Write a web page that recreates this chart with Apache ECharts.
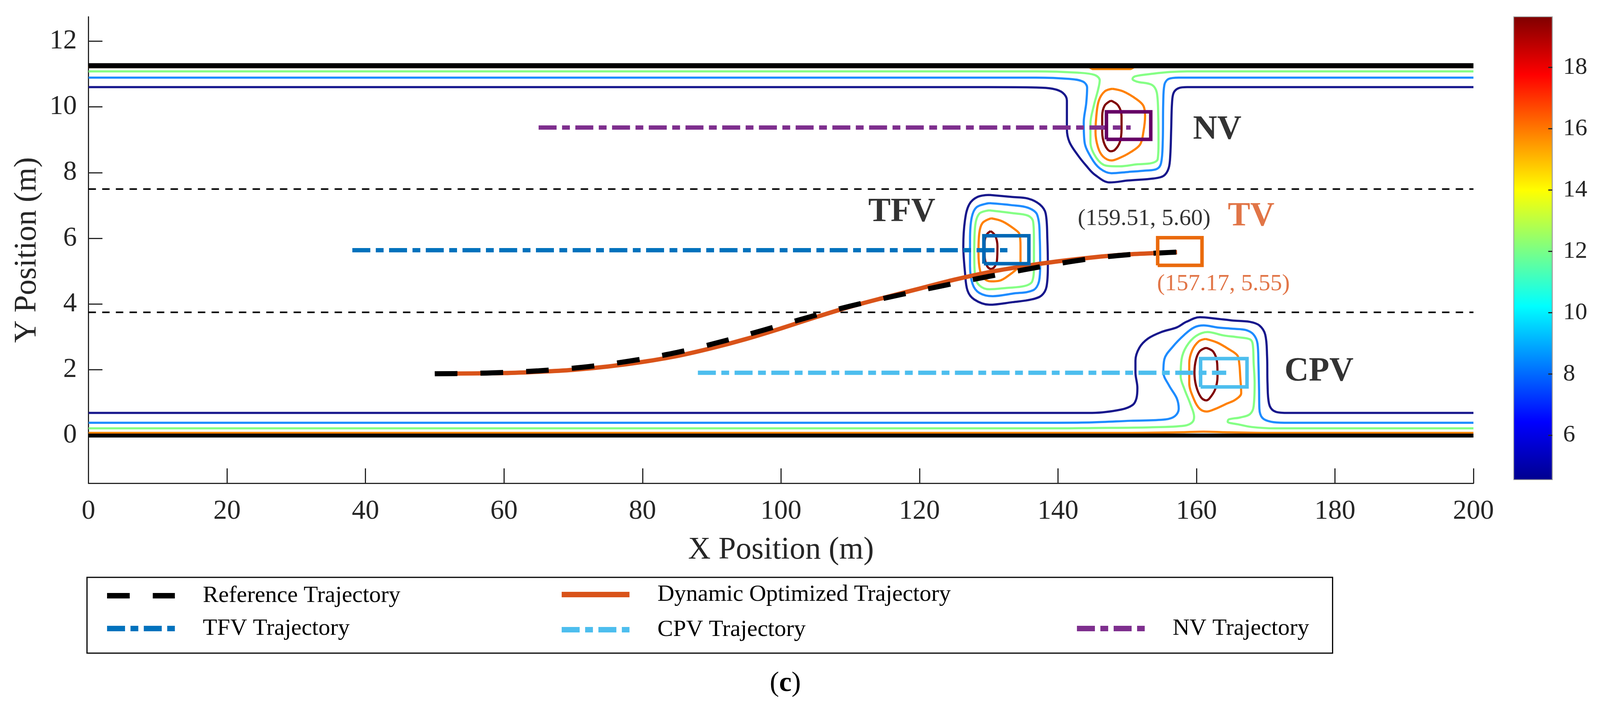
<!DOCTYPE html>
<html><head><meta charset="utf-8">
<script src="https://cdn.jsdelivr.net/npm/echarts@6/dist/echarts.min.js"></script>
<style>html,body{margin:0;padding:0;background:#fff;overflow:hidden}#c{width:100vw;height:1815px}</style>
</head><body><div id="c"></div>
<script>
// ---------- data ----------
const xTicks = [0,20,40,60,80,100,120,140,160,180,200];
const yTicks = [0,2,4,6,8,10,12];
const cbTicks = [6,8,10,12,14,16,18];
const cbRange = [4.55, 19.65];
const laneLines = [3.75, 7.5];
const roadEdges = [0, 11.25];

const trajX = [50,55,60,65,70,75,80,85,90,95,100,105,110,115,120,125,130,135,140,145,150,155,157.2];
const optY  = [1.88,1.89,1.9,1.94,2.0,2.1,2.24,2.42,2.66,2.94,3.26,3.6,3.92,4.2,4.47,4.74,4.97,5.15,5.3,5.42,5.51,5.56,5.58];
const refY  = [1.88,1.89,1.92,1.97,2.05,2.17,2.33,2.53,2.78,3.06,3.36,3.66,3.94,4.18,4.41,4.63,4.84,5.04,5.23,5.39,5.5,5.56,5.58];

const tfvTraj = [[38.1,5.64],[132.7,5.64]];
const cpvTraj = [[88.0,1.91],[164.3,1.91]];
const nvTraj  = [[65.0,9.37],[150.5,9.37]];

// vehicle boxes [x0, y0, x1, y1]
const nvBox  = [147.0, 9.01, 153.4, 9.85];
const tfvBox = [129.3, 5.23, 135.8, 6.08];
const cpvBox = [160.6, 1.48, 167.3, 2.34];
const tvBox  = [154.4, 5.18, 160.8, 6.02];

// contour lines (risk field levels)
const topNavy = [[0,10.6],[130,10.6],[136.8,10.59],[139.23,10.55],[140.68,10.43],[141.29,10.19],[141.29,9.32],[141.66,8.93],[142.87,8.53],[144.08,8.21],[145.3,7.94],[147.48,7.7],[150.15,7.76],[153.8,7.82],[155.25,7.9],[155.98,8.13],[156.22,8.53],[156.35,9.32],[156.47,10.11],[156.71,10.43],[157.44,10.57],[158.65,10.6],[165,10.6],[200,10.6]];
const topBlue = [[0,10.89],[130,10.89],[136.8,10.89],[141.66,10.85],[143.6,10.77],[144.21,10.59],[144.08,10.11],[143.72,9.52],[143.84,8.93],[144.81,8.45],[146.03,8.13],[147.73,7.98],[150.15,8.02],[152.58,8.06],[154.28,8.11],[154.89,8.29],[155.13,8.93],[155.2,10.11],[155.37,10.67],[155.98,10.85],[157.44,10.89],[165,10.89],[200,10.89]];
const topGreen = [[0,11.08],[130,11.08],[136.8,11.08],[142.87,11.04],[145.3,10.97],[146.03,10.81],[145.78,10.51],[145.18,10.04],[144.69,9.48],[144.69,8.93],[145.54,8.45],[147.0,8.21],[148.94,8.19],[151.37,8.25],[153.55,8.29],[154.4,8.41],[154.52,8.93],[154.48,9.72],[154.28,10.43],[153.55,10.67],[151.37,10.77],[150.76,10.85],[151.13,10.93],[153.8,11.01],[156.22,11.06],[158.65,11.08],[165,11.08],[200,11.08]];
const topOrange = [[0,11.21],[144.5,11.21],[145,11.15],[150.5,11.15],[151,11.21],[200,11.21]];
const nvOrange = [[147.85,10.55],[149.43,10.47],[151.37,10.23],[152.34,10.03],[152.58,9.72],[152.34,9.24],[151.85,8.85],[150.4,8.61],[148.94,8.45],[147.73,8.37],[146.51,8.49],[145.78,8.77],[145.42,9.24],[145.54,9.72],[145.9,10.19],[146.75,10.47],[147.85,10.55]];
const nvRed = [[147.65,10.19],[148.7,10.04],[149.18,9.72],[149.18,9.32],[148.94,8.93],[148.21,8.69],[147.6,8.65],[146.75,8.85],[146.39,9.24],[146.39,9.72],[146.75,10.04],[147.65,10.19]];

const tfvNavy = [[130.09,7.32],[133.25,7.26],[135.68,7.21],[137.38,7.03],[138.23,6.75],[138.47,5.96],[138.54,5.17],[138.35,4.53],[137.62,4.26],[136.16,4.14],[133.49,4.06],[130.09,3.98],[127.91,4.14],[126.94,4.41],[126.57,4.97],[126.33,5.76],[126.57,6.55],[127.18,7.03],[128.39,7.26],[130.09,7.32]];
const tfvBlue = [[130.09,7.07],[133.25,7.01],[135.68,6.93],[137.01,6.71],[137.38,5.96],[137.43,5.17],[137.26,4.69],[136.41,4.42],[133.49,4.32],[130.58,4.24],[128.64,4.34],[127.67,4.61],[127.3,5.17],[127.3,5.96],[127.54,6.63],[128.27,6.95],[130.09,7.07]];
const tfvGreen = [[130.09,6.85],[133.25,6.77],[135.68,6.69],[136.41,6.51],[136.53,5.96],[136.53,5.17],[136.28,4.69],[135.19,4.55],[132.52,4.49],[130.09,4.45],[128.64,4.57],[128.03,4.85],[127.91,5.56],[128.03,6.35],[128.64,6.75],[130.09,6.85]];
const tfvOrange = [[130.34,6.61],[132.04,6.51],[133.98,6.24],[134.46,6.12],[134.59,5.76],[134.59,5.25],[134.34,5.13],[133.01,4.89],[131.55,4.71],[130.34,4.69],[129.37,4.77],[128.76,5.01],[128.52,5.56],[128.64,6.16],[129.12,6.47],[130.34,6.61]];
const tfvRed = [[130.29,6.22],[130.94,6.08],[131.26,5.76],[131.19,5.32],[130.82,5.13],[130.29,5.07],[129.73,5.17],[129.41,5.48],[129.41,5.88],[129.73,6.12],[130.29,6.22]];

const botNavy = [[0,0.69],[140,0.69],[144.95,0.69],[149.11,0.79],[150.78,0.93],[151.33,1.13],[151.47,1.45],[151.19,1.92],[151.19,2.28],[151.75,2.67],[153.0,2.95],[154.94,3.15],[157.16,3.29],[158.55,3.46],[160.49,3.6],[162.71,3.56],[165.21,3.5],[167.71,3.46],[169.09,3.35],[169.93,3.07],[170.2,2.4],[170.26,1.6],[170.48,0.97],[171.17,0.75],[172.7,0.69],[180,0.69],[200,0.69]];
const botBlue = [[0,0.39],[140,0.39],[144.95,0.4],[150.5,0.45],[155.5,0.49],[156.88,0.59],[157.44,0.81],[157.16,1.13],[156.05,1.52],[155.22,1.92],[155.36,2.32],[156.61,2.71],[158.27,3.07],[159.66,3.29],[161.05,3.35],[162.99,3.29],[165.21,3.25],[167.15,3.21],[168.26,3.07],[168.82,2.79],[168.95,2.2],[169.04,1.41],[169.09,0.81],[169.51,0.54],[170.76,0.42],[172.7,0.39],[180,0.39],[200,0.39]];
const botGreen = [[0,0.22],[140,0.22],[144.95,0.23],[153.28,0.25],[158.27,0.3],[159.38,0.4],[159.66,0.57],[159.1,0.97],[158.27,1.41],[157.72,1.8],[157.85,2.32],[158.55,2.71],[159.94,3.03],[161.6,3.15],[163.82,3.05],[166.04,2.99],[167.71,2.93],[168.12,2.79],[168.26,2.2],[168.4,1.6],[168.26,0.89],[167.71,0.65],[166.32,0.55],[164.65,0.49],[164.51,0.42],[166.04,0.34],[167.98,0.26],[171.31,0.22],[180,0.22],[200,0.22]];
const botOrange = [[0,0.08],[150,0.08],[158,0.1],[161,0.12],[164,0.1],[170,0.08],[200,0.08]];
const cpvOrange = [[161.32,2.94],[162.99,2.83],[164.65,2.63],[165.9,2.44],[166.18,2.2],[166.32,1.8],[166.46,1.29],[165.62,1.09],[164.38,0.97],[162.71,0.81],[161.46,0.73],[160.49,0.81],[159.66,1.09],[158.96,1.6],[158.96,2.2],[159.38,2.59],[160.35,2.87],[161.32,2.94]];
const cpvRed = [[161.38,2.67],[162.43,2.55],[162.99,2.2],[163.04,1.8],[162.71,1.41],[161.88,1.13],[161.38,1.07],[160.63,1.17],[159.94,1.52],[159.71,1.92],[159.94,2.32],[160.49,2.57],[161.38,2.67]];

// annotations
const annText = ['NV','TFV','TV','CPV','(159.51, 5.60)','(157.17, 5.55)'];
const annX = [163.0, 117.45, 167.9, 177.7, 152.45, 163.9];
const annY = [9.3, 6.79, 6.66, 1.94, 6.59, 4.61];

const legendNames = ['Reference Trajectory','Dynamic Optimized Trajectory','TFV Trajectory','CPV Trajectory','NV Trajectory'];

// ---------- layout (horizontal positions scaled to the actual viewport width) ----------
const SX = (window.innerWidth || 4248) / 4248;
const X = v => v * SX;
const FONT = 'Liberation Serif';
const TXT = '#262626';
const C_NAVY = '#17178c', C_BLUE = '#1e8cff', C_GREEN = '#85ff85', C_ORANGE = '#ff8000', C_RED = '#800000';
const jet = ['#00008F','#0000FF','#0080FF','#00FFFF','#80FF80','#FFFF00','#FF8000','#FF0000','#800000'];
const dashDot = [46,14,20,14];

function contour(data, color, smooth) {
  return {type:'line', data, smooth: smooth === undefined ? 0.35 : smooth, symbol:'none', silent:true,
    lineStyle:{color, width:5.5}, z:2, xAxisIndex:0, yAxisIndex:0};
}
function hline(y, color, width, type, z) {
  return {type:'line', data:[[0,y],[200,y]], symbol:'none', silent:true,
    lineStyle:{color, width, type}, z, xAxisIndex:0, yAxisIndex:0};
}
function boxData(b) {
  return [[b[0],b[1]],[b[2],b[1]],[b[2],b[3]],[b[0],b[3]],[b[0],b[1]]];
}
function box(b, color) {
  return {type:'line', data:boxData(b), symbol:'none', silent:true,
    lineStyle:{color, width:9, join:'miter'}, z:7, xAxisIndex:0, yAxisIndex:0};
}
const annStyles = [
  {color:'#000', fontWeight:'bold', fontSize:86},
  {color:'#000', fontWeight:'bold', fontSize:86},
  {color:'#D95319', fontWeight:'bold', fontSize:86},
  {color:'#000', fontWeight:'bold', fontSize:86},
  {color:'#000', fontWeight:'normal', fontSize:60},
  {color:'#D95319', fontWeight:'normal', fontSize:60}
];

const series = [];
[[topNavy,C_NAVY],[topBlue,C_BLUE],[topGreen,C_GREEN],[nvOrange,C_ORANGE],[nvRed,C_RED],
 [tfvNavy,C_NAVY],[tfvBlue,C_BLUE],[tfvGreen,C_GREEN],[tfvOrange,C_ORANGE],[tfvRed,C_RED],
 [botNavy,C_NAVY],[botBlue,C_BLUE],[botGreen,C_GREEN],[cpvOrange,C_ORANGE],[cpvRed,C_RED]]
 .forEach(p => series.push(contour(p[0], p[1])));
series.push(contour(topOrange, C_ORANGE, false));
series.push(contour(botOrange, C_ORANGE, 0.3));
laneLines.forEach(y => series.push(hline(y, '#000', 4, [19,16], 3)));
series.push(hline(roadEdges[1], '#000', 13, 'solid', 3));
series.push(hline(roadEdges[0], '#000', 10, 'solid', 3));
series.push({name:legendNames[2], type:'line', data:tfvTraj, symbol:'none', lineStyle:{color:'#0072BD', width:11, type:dashDot}, z:5});
series.push({name:legendNames[3], type:'line', data:cpvTraj, symbol:'none', lineStyle:{color:'#4DBEEE', width:11, type:dashDot}, z:5});
series.push({name:legendNames[4], type:'line', data:nvTraj, symbol:'none', lineStyle:{color:'#7E2F8E', width:11, type:dashDot}, z:5});
series.push({name:legendNames[1], type:'line', data:trajX.map((x,i)=>[x,optY[i]]), smooth:0.3, symbol:'none', lineStyle:{color:'#D95319', width:11}, z:5});
series.push({name:legendNames[0], type:'line', data:trajX.map((x,i)=>[x,refY[i]]), smooth:0.3, symbol:'none', lineStyle:{color:'#000', width:13, type:[58,59]}, z:6});
series.push(box(nvBox, '#660066'));
series.push(box(tfvBox, '#0068B5'));
series.push(box(cpvBox, '#4DBEEE'));
series.push(box(tvBox, '#EA6A0C'));
series.push({type:'scatter', symbolSize:0, silent:true, z:8,
  data: annText.map((t,i)=>({value:[annX[i],annY[i]], label:Object.assign({show:true, position:'inside', formatter:t, fontFamily:FONT, align:'center', verticalAlign:'middle'}, annStyles[i])}))});
// colorbar: stacked bar with jet gradient spanning the colour range
series.push({type:'bar', xAxisIndex:1, yAxisIndex:1, stack:'cb', data:[cbRange[0]], barWidth:'100%', silent:true,
  itemStyle:{color:'rgba(0,0,0,0)'}});
series.push({type:'bar', xAxisIndex:1, yAxisIndex:1, stack:'cb', data:[cbRange[1]-cbRange[0]], barWidth:'100%', silent:true,
  itemStyle:{color:new echarts.graphic.LinearGradient(0,1,0,0, jet.map((c,i)=>({offset:i/(jet.length-1), color:c})))}});

const legendPos = [[277,1495],[1484,1492],[277,1579],[1484,1582],[2852,1579]];
const legends = legendNames.map((n,i)=>({
  data:[n], left:X(legendPos[i][0]), top:legendPos[i][1], padding:0, itemGap:0,
  itemWidth:X(180), itemHeight:14, selectedMode:false,
  lineStyle:{width:14}, itemStyle:{opacity:0, borderWidth:0},
  textStyle:{fontFamily:FONT, fontSize:60, color:'#000', padding:[0,0,0,X(69)]}
}));

const option = {
  animation:false,
  backgroundColor:'#fff',
  textStyle:{fontFamily:FONT},
  grid:[
    {left:X(235), top:43, width:X(3677), height:1194},
    {left:X(4019), top:43, width:X(102), height:1185, show:true, borderColor:'#9a9a9a', borderWidth:2, backgroundColor:'rgba(0,0,0,0)', z:10}
  ],
  xAxis:[
    {type:'value', gridIndex:0, min:0, max:200, interval:20,
     axisLine:{show:true, onZero:false, lineStyle:{color:TXT, width:3}},
     axisTick:{show:true, inside:true, length:38, lineStyle:{color:TXT, width:3}},
     axisLabel:{fontSize:70, fontFamily:FONT, color:TXT, margin:38},
     splitLine:{show:false},
     name:'X Position (m)', nameLocation:'middle', nameGap:132,
     nameTextStyle:{fontSize:80, fontFamily:FONT, color:TXT}},
    {type:'category', gridIndex:1, data:['cb'], show:false}
  ],
  yAxis:[
    {type:'value', gridIndex:0, min:-1.45, max:12.74,
     axisLine:{show:true, onZero:false, lineStyle:{color:TXT, width:3}},
     axisTick:{show:true, inside:true, length:X(37), customValues:yTicks, lineStyle:{color:TXT, width:3}},
     axisLabel:{fontSize:70, fontFamily:FONT, color:TXT, margin:X(31), customValues:yTicks},
     splitLine:{show:false},
     name:'Y Position (m)', nameLocation:'middle', nameGap:X(121),
     nameTextStyle:{fontSize:80, fontFamily:FONT, color:TXT}},
    {type:'value', gridIndex:1, position:'right', min:cbRange[0], max:cbRange[1],
     axisLine:{show:true, lineStyle:{color:'#9a9a9a', width:2}},
     axisTick:{show:true, inside:true, length:10, customValues:cbTicks, lineStyle:{color:TXT, width:3}},
     axisLabel:{show:true, fontSize:62, fontFamily:FONT, color:TXT, margin:X(29), customValues:cbTicks},
     splitLine:{show:false}, z:12}
  ],
  legend: legends,
  graphic:[
    {type:'rect', shape:{x:X(231), y:1478, width:X(3307), height:194}, style:{fill:'none', stroke:'#000', lineWidth:3}, z:1, silent:true},
    {type:'text', x:X(2085), y:1750, style:{text:'({b|c})', fontFamily:FONT, fontSize:72, fill:'#000', align:'center', verticalAlign:'middle',
      rich:{b:{fontWeight:'bold', fontSize:72, fontFamily:FONT}}}, silent:true}
  ],
  series
};
const chart = echarts.init(document.getElementById('c'));
chart.setOption(option);
</script></body></html>
